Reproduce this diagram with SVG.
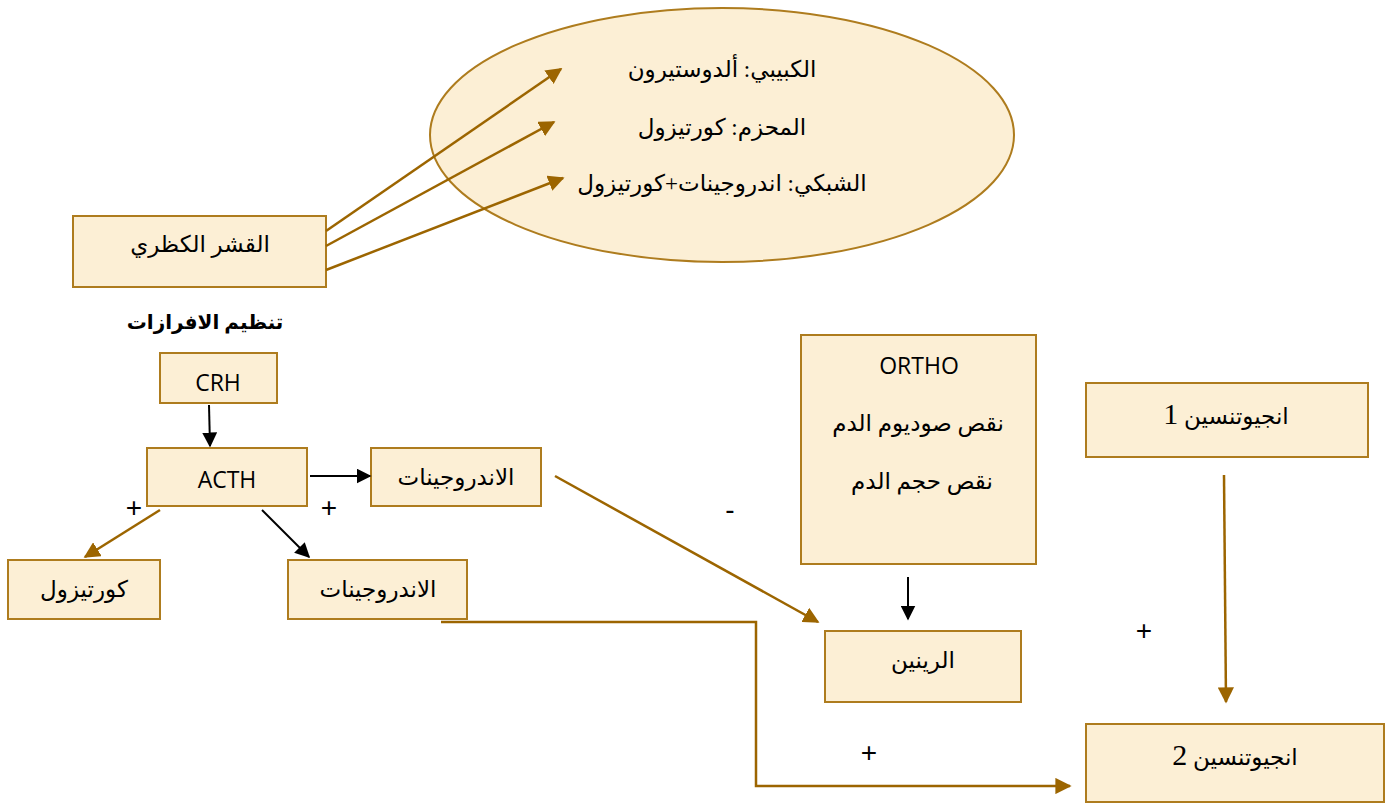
<svg xmlns="http://www.w3.org/2000/svg" width="1395" height="805" viewBox="0 0 1395 805">
  <style>
    .box { fill: #fcefd5; stroke: #ae7c1e; stroke-width: 2; }
    .ar { font-family: "Liberation Serif", "DejaVu Sans", serif; font-size: 23px; fill: #000; text-anchor: middle; }
    .num { font-family: "Liberation Serif", serif; font-size: 30px; }
    .lat { font-family: "Open Sans", "Liberation Sans", sans-serif; font-size: 23px; fill: #000; text-anchor: middle; }
    .sign { font-family: "Liberation Sans", sans-serif; font-size: 28px; fill: #000; text-anchor: middle; }
    .brown { stroke: #9c6500; stroke-width: 2.5; fill: none; }
    .black { stroke: #000; stroke-width: 2; fill: none; }
  </style>
  <defs>
    <marker id="ahB" viewBox="0 0 10 10" refX="9" refY="5" markerWidth="7.5" markerHeight="7.5" orient="auto" markerUnits="strokeWidth">
      <path d="M0,0 L10,5 L0,10 z" fill="#000"/>
    </marker>
    <marker id="ahBr" viewBox="0 0 10 10" refX="9" refY="5" markerWidth="6.5" markerHeight="6.5" orient="auto" markerUnits="strokeWidth">
      <path d="M0,0 L10,5 L0,10 z" fill="#9c6500"/>
    </marker>
  </defs>

  <!-- zones of the adrenal cortex -->
  <g id="zones">
    <ellipse class="box" cx="722" cy="135" rx="292" ry="127"/>
    <text class="ar" x="722" y="77" direction="rtl">الكبيبي: ألدوستيرون</text>
    <text class="ar" x="722" y="135" direction="rtl">المحزم: كورتيزول</text>
    <text class="ar" x="722" y="191" direction="rtl">الشبكي: اندروجينات+كورتيزول</text>
  </g>

  <g id="cortex">
    <rect class="box" x="73" y="216" width="253" height="71"/>
    <text class="ar" x="200" y="252">القشر الكظري</text>
  </g>

  <g id="title">
    <text x="205" y="329" font-family="Liberation Serif, DejaVu Sans, serif" font-size="20" font-weight="bold" text-anchor="middle">تنظيم الافرازات</text>
  </g>

  <g id="crh">
    <rect class="box" x="160" y="353" width="117" height="50"/>
    <text class="lat" x="218" y="391">CRH</text>
  </g>

  <g id="acth">
    <rect class="box" x="147" y="448" width="160" height="58"/>
    <text class="lat" x="227" y="488">ACTH</text>
  </g>

  <g id="androgens-top">
    <rect class="box" x="371" y="448" width="170" height="58"/>
    <text class="ar" x="456" y="485">الاندروجينات</text>
  </g>

  <g id="cortisol">
    <rect class="box" x="8" y="560" width="152" height="59"/>
    <text class="ar" x="84" y="597">كورتيزول</text>
  </g>

  <g id="androgens-bottom">
    <rect class="box" x="288" y="560" width="179" height="59"/>
    <text class="ar" x="378" y="597">الاندروجينات</text>
  </g>

  <g id="ortho">
    <rect class="box" x="801" y="335" width="235" height="229"/>
    <text class="lat" x="919" y="374">ORTHO</text>
    <text class="ar" x="918" y="431">نقص صوديوم الدم</text>
    <text class="ar" x="922" y="489">نقص حجم الدم</text>
  </g>

  <g id="renin">
    <rect class="box" x="825" y="631" width="196" height="71"/>
    <text class="ar" x="923" y="668">الرينين</text>
  </g>

  <g id="angiotensin1">
    <rect class="box" x="1086" y="383" width="282" height="74"/>
    <text class="ar" x="1226" y="424" direction="rtl">انجيوتنسين <tspan class="num">1</tspan></text>
  </g>

  <g id="angiotensin2">
    <rect class="box" x="1086" y="724" width="298" height="78"/>
    <text class="ar" x="1235" y="765" direction="rtl">انجيوتنسين <tspan class="num">2</tspan></text>
  </g>

  <!-- connectors -->
  <g id="connectors">
    <line class="brown" x1="326" y1="231" x2="561" y2="69" marker-end="url(#ahBr)"/>
    <line class="brown" x1="326" y1="246" x2="554" y2="122" marker-end="url(#ahBr)"/>
    <line class="brown" x1="326" y1="270" x2="563" y2="178" marker-end="url(#ahBr)"/>

    <line class="black" x1="209" y1="405" x2="210" y2="446" marker-end="url(#ahB)"/>
    <line class="black" x1="310" y1="476" x2="370" y2="476" marker-end="url(#ahB)"/>
    <line class="brown" x1="160" y1="510" x2="85" y2="557" marker-end="url(#ahBr)"/>
    <line class="black" x1="262" y1="510" x2="309" y2="557" marker-end="url(#ahB)"/>

    <line class="brown" x1="555" y1="476" x2="818" y2="622" marker-end="url(#ahBr)"/>
    <line class="black" x1="908" y1="577" x2="908" y2="619" marker-end="url(#ahB)"/>
    <line class="brown" x1="1224" y1="475" x2="1226" y2="702" marker-end="url(#ahBr)"/>
    <polyline class="brown" points="441,622 756,622 756,786 1070,786" marker-end="url(#ahBr)"/>
  </g>

  <g id="signs">
    <text class="sign" x="134" y="517">+</text>
    <text class="sign" x="329" y="517">+</text>
    <text class="sign" x="730" y="519">-</text>
    <text class="sign" x="1144" y="640">+</text>
    <text class="sign" x="869" y="762">+</text>
  </g>
</svg>
